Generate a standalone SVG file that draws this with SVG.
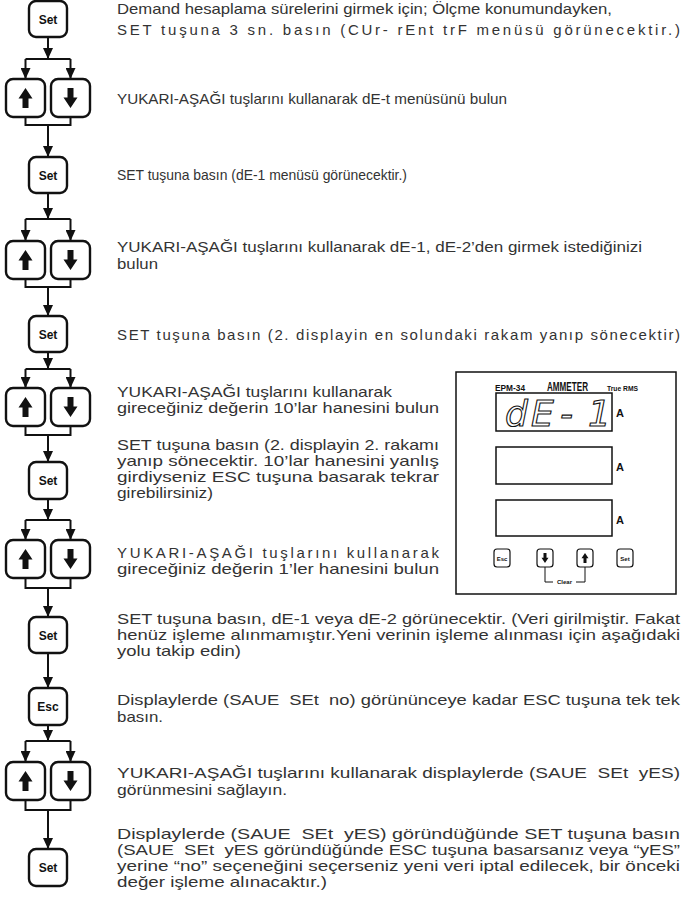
<svg xmlns="http://www.w3.org/2000/svg" xmlns:xlink="http://www.w3.org/1999/xlink" width="683" height="897" viewBox="0 0 683 897">
<style>
.box{fill:#fff;stroke:#111;stroke-width:2.4}
.lbl{font-family:"Liberation Sans",Arial,sans-serif;font-weight:bold;font-size:12px;text-anchor:middle;fill:#111}
.tx{font-family:"Liberation Sans",Arial,sans-serif;font-size:15px;fill:#333}
.cn{stroke:#111;stroke-width:2;fill:none}
.ar{stroke:#111;stroke-width:2;fill:none;marker-end:url(#ah)}
.pl{fill:#fff;stroke:#111;stroke-width:1.5}
.pb{fill:#fff;stroke:#111;stroke-width:1.2}
.pt{font-family:"Liberation Sans",Arial,sans-serif;font-weight:bold;fill:#111}
</style>
<defs>
<marker id="ah" markerUnits="userSpaceOnUse" markerWidth="11" markerHeight="10" refX="11" refY="5" orient="auto">
<path d="M0,0 L11,5 L0,10 z" fill="#111"/>
</marker>
<path id="upI" d="M0,-10 L7,0.5 L3,0.5 L3,10 L-3,10 L-3,0.5 L-7,0.5 z" fill="#111"/>
<path id="dnI" d="M0,10 L7,-0.5 L3,-0.5 L3,-10 L-3,-10 L-3,-0.5 L-7,-0.5 z" fill="#111"/>
</defs>
<rect width="683" height="897" fill="#fff"/>

<g id="connectors">
<path class="ar" d="M48,37 V59"/>
<path class="cn" d="M25.5,59 H70.5"/>
<path class="ar" d="M25.5,59 V79"/><path class="ar" d="M70.5,59 V79"/>
<path class="cn" d="M25.5,117 V125 H70.5 V117"/>
<path class="ar" d="M48,125 V157"/>
<path class="ar" d="M48,193 V219"/>
<path class="cn" d="M25.5,219 H70.5"/>
<path class="ar" d="M25.5,219 V241"/><path class="ar" d="M70.5,219 V241"/>
<path class="cn" d="M25.5,279 V287 H70.5 V279"/>
<path class="ar" d="M48,287 V316"/>
<path class="ar" d="M48,352 V369"/>
<path class="cn" d="M25.5,369 H70.5"/>
<path class="ar" d="M25.5,369 V388"/><path class="ar" d="M70.5,369 V388"/>
<path class="cn" d="M25.5,426 V435 H70.5 V426"/>
<path class="ar" d="M48,435 V462"/>
<path class="ar" d="M48,499 V520"/>
<path class="cn" d="M25.5,520 H70.5"/>
<path class="ar" d="M25.5,520 V540"/><path class="ar" d="M70.5,520 V540"/>
<path class="cn" d="M25.5,578 V588 H70.5 V578"/>
<path class="ar" d="M48,588 V617"/>
<path class="ar" d="M48,653 V688"/>
<path class="ar" d="M48,725 V741"/>
<path class="cn" d="M25.5,741 H70.5"/>
<path class="ar" d="M25.5,741 V762"/><path class="ar" d="M70.5,741 V762"/>
<path class="cn" d="M25.5,800 V810 H70.5 V800"/>
<path class="ar" d="M48,810 V849"/>
</g>

<g id="set1"><rect class="box" x="29" y="1" width="38" height="36" rx="7"/><text class="lbl" x="48" y="23.5">Set</text></g>
<g id="updown1"><rect class="box" x="6" y="79" width="39" height="38" rx="7"/><use xlink:href="#upI" x="25.5" y="98"/><rect class="box" x="51" y="79" width="39" height="38" rx="7"/><use xlink:href="#dnI" x="70.5" y="98"/></g>
<g id="set2"><rect class="box" x="29" y="157" width="38" height="36" rx="7"/><text class="lbl" x="48" y="179.5">Set</text></g>
<g id="updown2"><rect class="box" x="6" y="241" width="39" height="38" rx="7"/><use xlink:href="#upI" x="25.5" y="260"/><rect class="box" x="51" y="241" width="39" height="38" rx="7"/><use xlink:href="#dnI" x="70.5" y="260"/></g>
<g id="set3"><rect class="box" x="29" y="316" width="38" height="36" rx="7"/><text class="lbl" x="48" y="338.5">Set</text></g>
<g id="updown3"><rect class="box" x="6" y="388" width="39" height="38" rx="7"/><use xlink:href="#upI" x="25.5" y="407"/><rect class="box" x="51" y="388" width="39" height="38" rx="7"/><use xlink:href="#dnI" x="70.5" y="407"/></g>
<g id="set4"><rect class="box" x="29" y="462" width="38" height="37" rx="7"/><text class="lbl" x="48" y="485">Set</text></g>
<g id="updown4"><rect class="box" x="6" y="540" width="39" height="38" rx="7"/><use xlink:href="#upI" x="25.5" y="559"/><rect class="box" x="51" y="540" width="39" height="38" rx="7"/><use xlink:href="#dnI" x="70.5" y="559"/></g>
<g id="set5"><rect class="box" x="29" y="617" width="38" height="36" rx="7"/><text class="lbl" x="48" y="639.5">Set</text></g>
<g id="esc"><rect class="box" x="29" y="688" width="38" height="37" rx="7"/><text class="lbl" x="48" y="711">Esc</text></g>
<g id="updown5"><rect class="box" x="6" y="762" width="39" height="38" rx="7"/><use xlink:href="#upI" x="25.5" y="781"/><rect class="box" x="51" y="762" width="39" height="38" rx="7"/><use xlink:href="#dnI" x="70.5" y="781"/></g>
<g id="set6"><rect class="box" x="29" y="849" width="38" height="37" rx="7"/><text class="lbl" x="48" y="872">Set</text></g>

<g id="texts">
<text class="tx" x="117" y="14" textLength="495" lengthAdjust="spacingAndGlyphs">Demand hesaplama sürelerini girmek için; Ölçme konumundayken,</text>
<text class="tx" x="117" y="35" textLength="563" lengthAdjust="spacing">SET tuşuna 3 sn. basın (CUr- rEnt trF menüsü görünecektir.)</text>
<text class="tx" x="117" y="104" textLength="390" lengthAdjust="spacingAndGlyphs">YUKARI-AŞAĞI tuşlarını kullanarak dE-t menüsünü bulun</text>
<text class="tx" x="117" y="180" textLength="290" lengthAdjust="spacingAndGlyphs">SET tuşuna basın (dE-1 menüsü görünecektir.)</text>
<text class="tx" x="117" y="252" textLength="525" lengthAdjust="spacingAndGlyphs">YUKARI-AŞAĞI tuşlarını kullanarak dE-1, dE-2’den girmek istediğinizi</text>
<text class="tx" x="117" y="269" textLength="41" lengthAdjust="spacingAndGlyphs">bulun</text>
<text class="tx" x="117" y="340" textLength="563" lengthAdjust="spacing">SET tuşuna basın (2. displayin en solundaki rakam yanıp sönecektir)</text>
<text class="tx" x="117" y="397" textLength="275" lengthAdjust="spacingAndGlyphs">YUKARI-AŞAĞI tuşlarını kullanarak</text>
<text class="tx" x="117" y="413" textLength="322" lengthAdjust="spacingAndGlyphs">gireceğiniz değerin 10’lar hanesini bulun</text>
<text class="tx" x="117" y="450" textLength="322" lengthAdjust="spacingAndGlyphs">SET tuşuna basın (2. displayin 2. rakamı</text>
<text class="tx" x="117" y="466" textLength="322" lengthAdjust="spacingAndGlyphs">yanıp sönecektir. 10’lar hanesini yanlış</text>
<text class="tx" x="117" y="482" textLength="322" lengthAdjust="spacingAndGlyphs">girdiyseniz ESC tuşuna basarak tekrar</text>
<text class="tx" x="117" y="498" textLength="96" lengthAdjust="spacingAndGlyphs">girebilirsiniz)</text>
<text class="tx" x="117" y="558" textLength="322" lengthAdjust="spacing">YUKARI-AŞAĞI tuşlarını kullanarak</text>
<text class="tx" x="117" y="574" textLength="322" lengthAdjust="spacingAndGlyphs">gireceğiniz değerin 1’ler hanesini bulun</text>
<text class="tx" x="117" y="624" textLength="563" lengthAdjust="spacingAndGlyphs">SET tuşuna basın, dE-1 veya dE-2 görünecektir. (Veri girilmiştir. Fakat</text>
<text class="tx" x="117" y="640" textLength="563" lengthAdjust="spacingAndGlyphs">henüz işleme alınmamıştır.Yeni verinin işleme alınması için aşağıdaki</text>
<text class="tx" x="117" y="656" textLength="124" lengthAdjust="spacingAndGlyphs">yolu takip edin)</text>
<text class="tx" x="117" y="705" textLength="563" lengthAdjust="spacingAndGlyphs" xml:space="preserve">Displaylerde (SAUE  SEt  no) görününceye kadar ESC tuşuna tek tek</text>
<text class="tx" x="117" y="722" textLength="46" lengthAdjust="spacingAndGlyphs">basın.</text>
<text class="tx" x="117" y="778" textLength="563" lengthAdjust="spacingAndGlyphs" xml:space="preserve">YUKARI-AŞAĞI tuşlarını kullanarak displaylerde (SAUE  SEt  yES)</text>
<text class="tx" x="117" y="795" textLength="170" lengthAdjust="spacingAndGlyphs">görünmesini sağlayın.</text>
<text class="tx" x="117" y="839" textLength="563" lengthAdjust="spacingAndGlyphs" xml:space="preserve">Displaylerde (SAUE  SEt  yES) göründüğünde SET tuşuna basın</text>
<text class="tx" x="117" y="855" textLength="563" lengthAdjust="spacingAndGlyphs" xml:space="preserve">(SAUE  SEt  yES göründüğünde ESC tuşuna basarsanız veya “yES”</text>
<text class="tx" x="117" y="871" textLength="563" lengthAdjust="spacingAndGlyphs">yerine “no” seçeneğini seçerseniz yeni veri iptal edilecek, bir önceki</text>
<text class="tx" x="117" y="887" textLength="210" lengthAdjust="spacingAndGlyphs">değer işleme alınacaktır.)</text>
</g>

<g id="panel">
<rect class="pl" x="456" y="372" width="220" height="222"/>
<text class="pt" x="495" y="391" font-size="9" textLength="30" lengthAdjust="spacingAndGlyphs">EPM-34</text>
<text class="pt" x="547" y="391" font-size="12" textLength="41" lengthAdjust="spacingAndGlyphs">AMMETER</text>
<text class="pt" x="607" y="391" font-size="6.5" textLength="31" lengthAdjust="spacingAndGlyphs">True RMS</text>
<rect class="pl" x="496" y="393" width="116" height="38"/>
<rect class="pl" x="496" y="447" width="116" height="37"/>
<rect class="pl" x="496" y="500" width="116" height="36"/>
<text x="505 531 546 560 576 588" y="426" font-family="DejaVu Sans,sans-serif" font-style="oblique" font-size="36" fill="#fff" stroke="#111" stroke-width="1.1" xml:space="preserve">dE - 1</text>
<text class="pt" x="616" y="417" font-size="11">A</text>
<text class="pt" x="616" y="471" font-size="11">A</text>
<text class="pt" x="616" y="524" font-size="11">A</text>
<rect class="pb" x="494" y="549" width="16" height="18" rx="3"/>
<text class="pt" x="502" y="560.5" font-size="6" text-anchor="middle">Esc</text>
<rect class="pb" x="537" y="549" width="16" height="18" rx="3"/>
<use xlink:href="#dnI" transform="translate(545,558) scale(0.5)"/>
<rect class="pb" x="577" y="549" width="16" height="18" rx="3"/>
<use xlink:href="#upI" transform="translate(585,558) scale(0.5)"/>
<rect class="pb" x="617" y="549" width="16" height="18" rx="3"/>
<text class="pt" x="625" y="560.5" font-size="6" text-anchor="middle">Set</text>
<path d="M545,567 V582 H553 M576,582 H585 V567" fill="none" stroke="#111" stroke-width="1"/>
<text class="pt" x="564.5" y="584" font-size="6" text-anchor="middle">Clear</text>
</g>
</svg>
